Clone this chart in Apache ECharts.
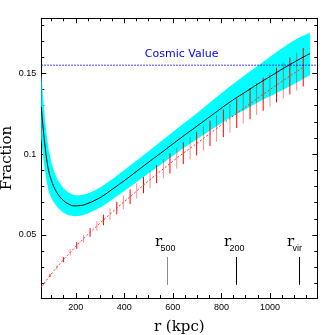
<!DOCTYPE html>
<html>
<head>
<meta charset="utf-8">
<script src="https://cdn.jsdelivr.net/npm/echarts@6/dist/echarts.min.js"></script>
<style>
  html, body {margin: 0; padding: 0; background: #fff;}
  #chart {width: 335px; height: 335px;}
</style>
</head>
<body>
<div id="chart"></div>
<script>
// axis ranges (kpc, fraction)
var xMin = 58, xMax = 1195;
var yMin = 0.011, yMax = 0.184;

// model curve + cyan band
var modelR = [58, 62, 66, 70, 75, 80, 88, 100, 115, 130, 150, 170, 194, 220, 250, 280, 307, 350, 400, 444, 500, 550, 630, 700, 760, 836, 900, 960, 1020, 1080, 1120, 1165];
var modelF = [0.1292, 0.1220, 0.1155, 0.1095, 0.1030, 0.0970, 0.0900, 0.0835, 0.0782, 0.0745, 0.0712, 0.0692, 0.0680, 0.0682, 0.0695, 0.0715, 0.0737, 0.0782, 0.0836, 0.0886, 0.0950, 0.1006, 0.1097, 0.1174, 0.1240, 0.1323, 0.1385, 0.1443, 0.1498, 0.1552, 0.1586, 0.1622];
var bandHi = [0.150, 0.142, 0.134, 0.127, 0.119, 0.112, 0.103, 0.0945, 0.0875, 0.0828, 0.0787, 0.0762, 0.0745, 0.0745, 0.0757, 0.0776, 0.0799, 0.0845, 0.0902, 0.0952, 0.1018, 0.1078, 0.1172, 0.1255, 0.1328, 0.1420, 0.1493, 0.1558, 0.1624, 0.1686, 0.1722, 0.1750];
var bandLo = [0.110, 0.104, 0.098, 0.093, 0.088, 0.083, 0.077, 0.0725, 0.0690, 0.0662, 0.0637, 0.0622, 0.0615, 0.0619, 0.0633, 0.0654, 0.0675, 0.0719, 0.0772, 0.0820, 0.0882, 0.0934, 0.1022, 0.1093, 0.1152, 0.1226, 0.1277, 0.1328, 0.1372, 0.1418, 0.1450, 0.1490];

// measured points with error bars
var dataR = [58, 67, 94, 122, 149, 177, 204, 232, 259, 287, 314, 341, 369, 396, 424, 451, 479, 506, 533, 561, 588, 616, 643, 671, 698, 726, 753, 780, 808, 835, 863, 890, 918, 945, 972, 1000, 1027, 1055, 1082, 1110, 1137];
var dataF = [0.0181, 0.0195, 0.0249, 0.0300, 0.0347, 0.0392, 0.0435, 0.0477, 0.0516, 0.0556, 0.0593, 0.0629, 0.0666, 0.0701, 0.0736, 0.0772, 0.0808, 0.0842, 0.0876, 0.0909, 0.0942, 0.0975, 0.1006, 0.1036, 0.1065, 0.1097, 0.1128, 0.1159, 0.1190, 0.1221, 0.1252, 0.1282, 0.1312, 0.1341, 0.1370, 0.1399, 0.1427, 0.1455, 0.1483, 0.1510, 0.1537];
var dataErr = [0.0006, 0.0008, 0.0010, 0.0013, 0.0016, 0.0019, 0.0021, 0.0024, 0.0027, 0.0030, 0.0033, 0.0036, 0.0039, 0.0042, 0.0045, 0.0047, 0.0050, 0.0053, 0.0056, 0.0059, 0.0062, 0.0065, 0.0068, 0.0070, 0.0073, 0.0076, 0.0079, 0.0082, 0.0085, 0.0088, 0.0091, 0.0093, 0.0096, 0.0099, 0.0102, 0.0105, 0.0108, 0.0111, 0.0114, 0.0117, 0.0119];

var cosmicValue = 0.155;
var cosmicLabel = 'Cosmic Value';
var cosmicLabelPos = [636, 0.162];

// characteristic radii
var markerR = [576, 860, 1119];
var markerSub = ['500', '200', 'vir'];
var markerColor = ['#8c8c8c', '#000', '#000'];
var markerY = [0.0191, 0.0364];

// ticks
var xMajor = [200, 400, 600, 800, 1000];
var xMinor = [100, 150, 250, 300, 350, 450, 500, 550, 650, 700, 750, 850, 900, 950, 1050, 1100, 1150];
var yMajor = [0.05, 0.1, 0.15];
var yMinor = [0.02, 0.03, 0.04, 0.06, 0.07, 0.08, 0.09, 0.11, 0.12, 0.13, 0.14, 0.16, 0.17, 0.18];

var chart = echarts.init(document.getElementById('chart'));

function xAxisOf(pos, ticks, len, withLabel) {
  return {
    type: 'value', position: pos, min: xMin, max: xMax,
    axisLine: {show: true, lineStyle: {color: '#000', width: 1}},
    splitLine: {show: false},
    axisTick: {show: true, inside: true, length: len, customValues: ticks, lineStyle: {color: '#000'}},
    axisLabel: withLabel ? {show: true, customValues: ticks, margin: 5, color: '#000',
      fontFamily: 'Liberation Sans', fontSize: 9, formatter: function (v) { return String(v); }} : {show: false},
    name: withLabel ? 'r (kpc)' : '', nameLocation: 'middle', nameGap: 22, nameMoveOverlap: false,
    nameTextStyle: {fontFamily: 'DejaVu Serif', fontSize: 15, color: '#000'}
  };
}
function yAxisOf(pos, ticks, len, withLabel) {
  return {
    type: 'value', position: pos, min: yMin, max: yMax,
    axisLine: {show: true, lineStyle: {color: '#000', width: 1}},
    splitLine: {show: false},
    axisTick: {show: true, inside: true, length: len, customValues: ticks, lineStyle: {color: '#000'}},
    axisLabel: withLabel ? {show: true, customValues: ticks, margin: 5, color: '#000',
      fontFamily: 'Liberation Sans', fontSize: 9, formatter: function (v) { return String(v); }} : {show: false},
    name: withLabel ? 'Fraction' : '', nameLocation: 'middle', nameGap: 27, nameRotate: 90, nameMoveOverlap: false,
    nameTextStyle: {fontFamily: 'DejaVu Serif', fontSize: 15, color: '#000'}
  };
}

// cyan band drawn as one polygon
function bandItem(params, api) {
  if (params.dataIndex !== 0) return null;
  var pts = [];
  for (var i = 0; i < modelR.length; i++) pts.push(api.coord([modelR[i], bandHi[i]]));
  for (var j = modelR.length - 1; j >= 0; j--) pts.push(api.coord([modelR[j], bandLo[j]]));
  return {type: 'polygon', shape: {points: pts}, style: {fill: '#00ffff', stroke: null}};
}

function errorBar(params, api) {
  var x = api.value(0), f = api.value(1), e = api.value(2);
  var p0 = api.coord([x, f - e]);
  var p1 = api.coord([x, f + e]);
  return {
    type: 'line',
    shape: {x1: p0[0], y1: p0[1], x2: p1[0], y2: p1[1]},
    style: {stroke: '#ff0000', lineWidth: 1, opacity: params.dataIndex % 2 ? 0.45 : 1}
  };
}

function markerItem(params, api) {
  var x = api.value(0);
  var p0 = api.coord([x, markerY[0]]);
  var p1 = api.coord([x, markerY[1]]);
  var px = Math.round(p0[0]) + 0.5;
  return {
    type: 'group',
    children: [
      {type: 'line', shape: {x1: px, y1: p0[1], x2: px, y2: p1[1]},
        style: {stroke: markerColor[params.dataIndex], lineWidth: 1}},
      {type: 'text', style: {text: 'r', x: px - 12.5, y: p1[1] - 14.5, verticalAlign: 'middle',
        font: '15px "DejaVu Serif"', fill: '#000'}},
      {type: 'text', style: {text: markerSub[params.dataIndex], x: px - 7, y: p1[1] - 8.5, verticalAlign: 'middle',
        font: '9px "Liberation Sans"', fill: '#000'}}
    ]
  };
}

function cosmicItem(params, api) {
  var p = api.coord([api.value(0), api.value(1)]);
  return {type: 'text', style: {text: cosmicLabel, x: p[0], y: p[1], align: 'center', verticalAlign: 'middle',
    font: '11px "DejaVu Sans"', fill: '#0000ff'}};
}

chart.setOption({
  animation: false,
  grid: {left: 41.3, right: 17.7, top: 18.3, bottom: 37, containLabel: false, outerBoundsMode: 'none'},
  xAxis: [
    xAxisOf('bottom', xMajor, 5, true),
    xAxisOf('bottom', xMinor, 3, false),
    xAxisOf('top', xMajor, 5, false),
    xAxisOf('top', xMinor, 3, false)
  ],
  yAxis: [
    yAxisOf('left', yMajor, 5, true),
    yAxisOf('left', yMinor, 3, false),
    yAxisOf('right', yMajor, 5, false),
    yAxisOf('right', yMinor, 3, false)
  ],
  series: [
    {type: 'custom', renderItem: bandItem, z: 1, silent: true,
      data: modelR.map(function (r, i) { return [r, modelF[i]]; })},
    {type: 'custom', renderItem: errorBar, z: 2, clip: true,
      data: dataR.map(function (r, i) { return [r, dataF[i], dataErr[i]]; })},
    {type: 'line', z: 3, data: dataR.map(function (r, i) { return [r, dataF[i]]; }), symbol: 'none',
      lineStyle: {color: '#ff3030', width: 1, type: [2, 2]}},
    {type: 'line', z: 4, data: modelR.map(function (r, i) { return [r, modelF[i]]; }), symbol: 'none', smooth: true,
      lineStyle: {color: '#000', width: 1}},
    {type: 'line', z: 4, data: [[xMin, cosmicValue], [xMax, cosmicValue]], symbol: 'none',
      lineStyle: {color: '#0000ff', width: 1, type: [1.5, 1.5]}},
    {type: 'custom', renderItem: cosmicItem, z: 5, data: [cosmicLabelPos]},
    {type: 'custom', renderItem: markerItem, z: 5, data: markerR.map(function (r) { return [r, markerY[1]]; })}
  ]
});
</script>
</body>
</html>
